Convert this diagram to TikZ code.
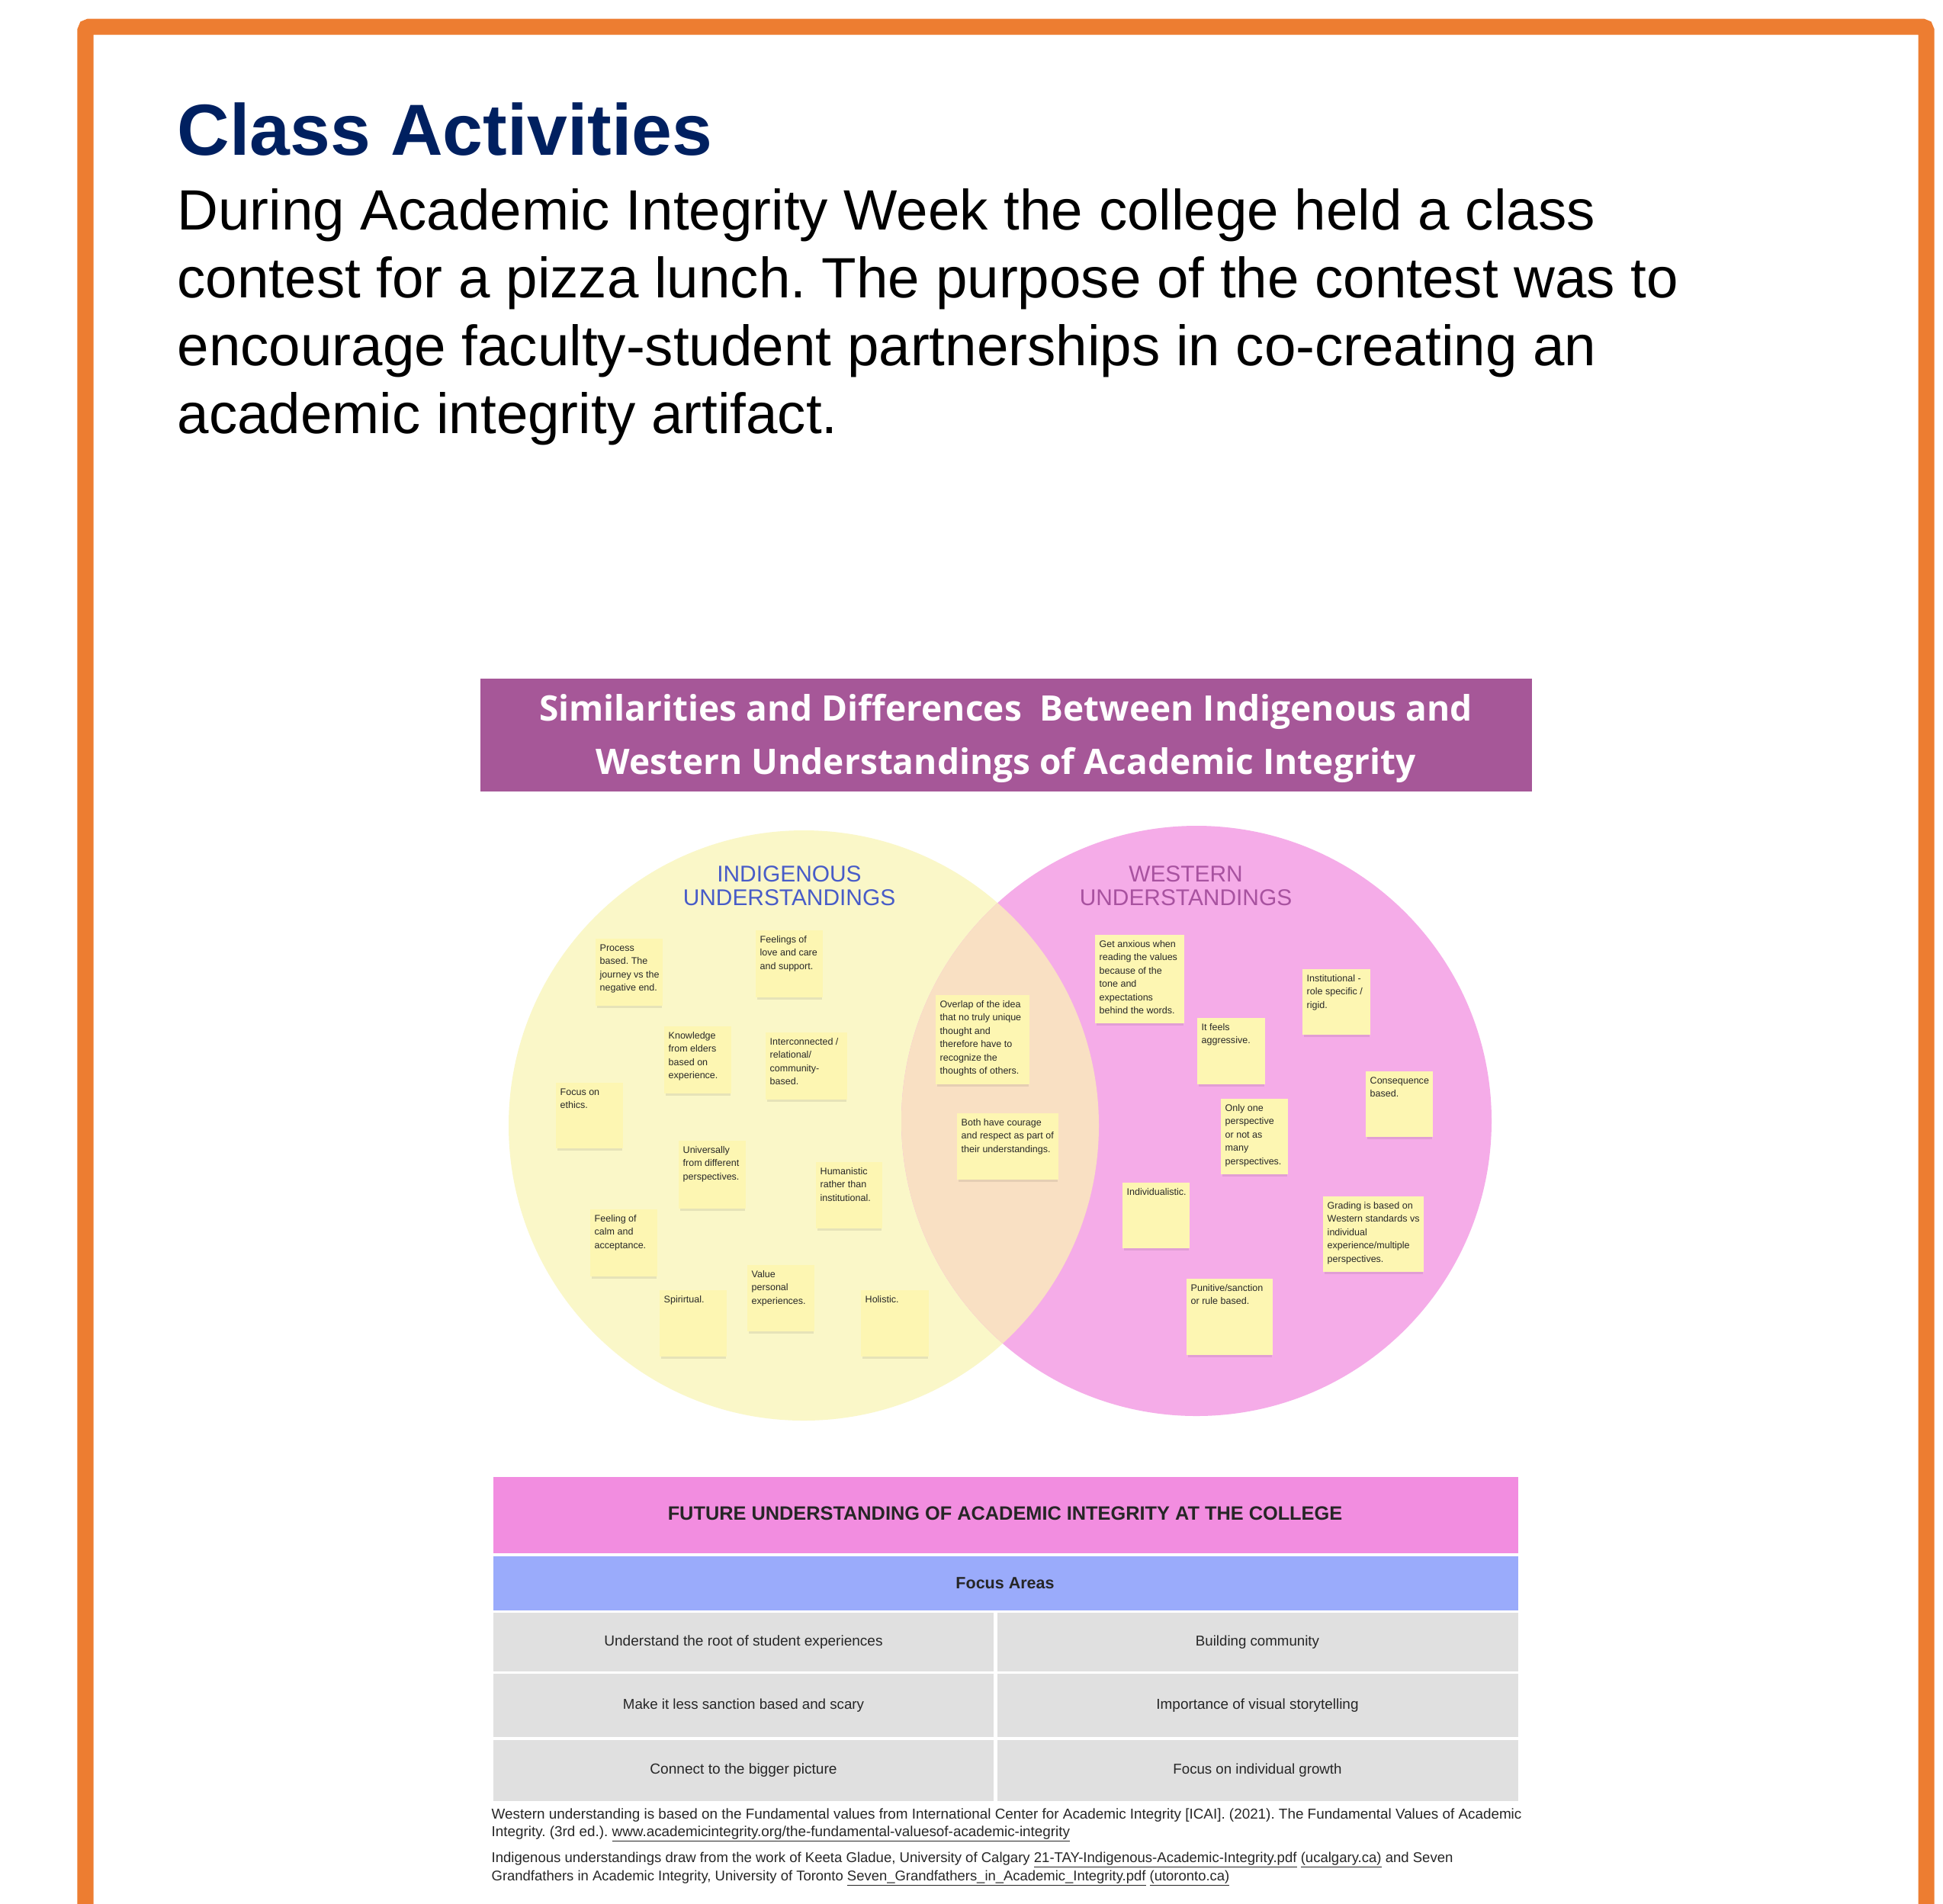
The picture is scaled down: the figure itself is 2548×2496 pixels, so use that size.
\documentclass[tikz,border=0pt]{standalone}
\usepackage{fontspec}
\usepackage{graphicx}
\setmainfont{Liberation Sans}
\newfontfamily\bannerfont{Open Sans}
\frenchspacing
\definecolor{framec}{RGB}{237,125,49}
\definecolor{headc}{RGB}{0,32,96}
\definecolor{bannerc}{RGB}{166,87,152}
\definecolor{leftc}{RGB}{250,247,200}
\definecolor{rightc}{RGB}{245,172,232}
\definecolor{overc}{RGB}{249,224,195}
\definecolor{stickyc}{RGB}{253,246,178}
\definecolor{pinkc}{RGB}{242,141,224}
\definecolor{bluec}{RGB}{154,171,251}
\definecolor{grayc}{RGB}{224,224,224}
\definecolor{indc}{RGB}{72,92,200}
\definecolor{wesc}{RGB}{168,82,160}
\definecolor{notetxt}{RGB}{40,40,40}
\newcommand\snote[6]{%
  \fill[black,opacity=0.08] (#2+2,#5-1) rectangle (#4-1,#5+3);
  \fill[stickyc] (#2,#3) rectangle (#4,#5);
  \node[notetext] (#1) at (#2+5,#3+16.5) {\parbox[t]{3cm}{\raggedright #6}};
}
\begin{document}
\begin{tikzpicture}[x=0.01cm,y=-0.01cm,
  notetext/.style={anchor=base west,inner sep=0,text=notetxt,font=\fontsize{3.56pt}{4.95pt}\selectfont},
  bodytext/.style={anchor=base west,inner sep=0,font=\fontsize{21.2pt}{25.3pt}\selectfont},
  vennhead/.style={anchor=base,inner sep=0,font=\fontsize{8.5pt}{8.8pt}\selectfont},
  celltext/.style={anchor=center,inner sep=0,text=black!85},
  foot/.style={anchor=base west,inner sep=0,text=black!85}]
\useasboundingbox (0,0) rectangle (2548,2496);
\fill[white] (0,0) rectangle (2548,2496);
% frame
\draw[framec,line width=0.21cm,rounded corners=0.05cm] (112,2560) -- (112,35) -- (2526,35) -- (2526,2560);
% heading and intro
\node[anchor=base west,inner sep=0,text=headc,font=\fontsize{27pt}{30pt}\selectfont\bfseries] (title) at (232,203) {Class Activities};
\node[bodytext] (l1) at (232,301) {During Academic Integrity Week the college held a class};
\node[bodytext] (l2) at (232,390) {contest for a pizza lunch. The purpose of the contest was to};
\node[bodytext] (l3) at (232,479) {encourage faculty-student partnerships in co-creating an};
\node[bodytext] (l4) at (232,568) {academic integrity artifact.};
% banner
\fill[bannerc] (630,890) rectangle (2009,1038);
\node[anchor=base,inner sep=0,text=white] (b1) at (1319,945) {\resizebox{12.23cm}{!}{\bannerfont\bfseries Similarities and Differences\ \ Between Indigenous and}};
\node[anchor=base,inner sep=0,text=white] (b2) at (1319,1015) {\resizebox{10.74cm}{!}{\bannerfont\bfseries Western Understandings of Academic Integrity}};
% venn
\fill[leftc] (1054,1476) circle[radius=387];
\fill[rightc] (1569,1470) circle[radius=387];
\begin{scope}
  \clip (1054,1476) circle[radius=387];
  \fill[overc] (1569,1470) circle[radius=387];
\end{scope}
\node[vennhead,text=indc] (ih1) at (1035,1156) {INDIGENOUS};
\node[vennhead,text=indc] (ih2) at (1035,1187) {UNDERSTANDINGS};
\node[vennhead,text=wesc] (wh1) at (1555,1156) {WESTERN};
\node[vennhead,text=wesc] (wh2) at (1555,1187) {UNDERSTANDINGS};
% notes
\snote{n1}{781}{1231}{869}{1319}{Process\\based. The\\journey vs the\\negative end.}
\snote{n2}{991}{1220}{1079}{1308}{Feelings of\\love and care\\and support.}
\snote{n3}{871}{1346}{959}{1434}{Knowledge\\from elders\\based on\\experience.}
\snote{n4}{1004}{1354}{1111}{1442}{Interconnected /\\relational/\\community-\\based.}
\snote{n5}{729}{1420}{817}{1506}{Focus on\\ethics.}
\snote{n6}{890}{1496}{978}{1585}{Universally\\from different\\perspectives.}
\snote{n7}{1070}{1524}{1157}{1611}{Humanistic\\rather than\\institutional.}
\snote{n8}{774}{1586}{862}{1674}{Feeling of\\calm and\\acceptance.}
\snote{n9}{980}{1659}{1068}{1746}{Value\\personal\\experiences.}
\snote{n10}{865}{1692}{953}{1779}{Spirirtual.}
\snote{n11}{1129}{1692}{1218}{1779}{Holistic.}
\snote{n12}{1227}{1305}{1350}{1422}{Overlap of the idea\\that no truly unique\\thought and\\therefore have to\\recognize the\\thoughts of others.}
\snote{n13}{1255}{1460}{1388}{1547}{Both have courage\\and respect as part of\\their understandings.}
\snote{n14}{1436}{1226}{1553}{1342}{Get anxious when\\reading the values\\because of the\\tone and\\expectations\\behind the words.}
\snote{n15}{1570}{1335}{1659}{1422}{It feels\\aggressive.}
\snote{n16}{1708}{1271}{1797}{1357}{Institutional -\\role specific /\\rigid.}
\snote{n17}{1791}{1405}{1879}{1491}{Consequence\\based.}
\snote{n18}{1601}{1441}{1689}{1540}{Only one\\perspective\\or not as\\many\\perspectives.}
\snote{n19}{1472}{1551}{1560}{1637}{Individualistic.}
\snote{n20}{1735}{1569}{1867}{1668}{Grading is based on\\Western standards vs\\individual\\experience/multiple\\perspectives.}
\snote{n21}{1556}{1677}{1669}{1777}{Punitive/sanction\\or rule based.}
% table
\fill[pinkc] (647,1937) rectangle (1991,2037);
\fill[bluec] (647,2041) rectangle (1991,2112);
\fill[grayc] (647,2115) rectangle (1303,2192);
\fill[grayc] (1308,2115) rectangle (1991,2192);
\fill[grayc] (647,2195) rectangle (1303,2278);
\fill[grayc] (1308,2195) rectangle (1991,2278);
\fill[grayc] (647,2282) rectangle (1303,2362);
\fill[grayc] (1308,2282) rectangle (1991,2362);
\node[celltext] (th) at (1318,1985) {\resizebox{8.84cm}{!}{\bfseries FUTURE UNDERSTANDING OF ACADEMIC INTEGRITY AT THE COLLEGE}};
\node[celltext] (fa) at (1318,2076) {\resizebox{1.29cm}{!}{\bfseries Focus Areas}};
\node[celltext] (c11) at (975,2154) {\resizebox{3.65cm}{!}{Understand the root of student experiences}};
\node[celltext] (c12) at (1649,2154) {\resizebox{1.62cm}{!}{Building community}};
\node[celltext] (c21) at (975,2237) {\resizebox{3.16cm}{!}{Make it less sanction based and scary}};
\node[celltext] (c22) at (1649,2237) {\resizebox{2.65cm}{!}{Importance of visual storytelling}};
\node[celltext] (c31) at (975,2322) {\resizebox{2.45cm}{!}{Connect to the bigger picture}};
\node[celltext] (c32) at (1649,2322) {\resizebox{2.21cm}{!}{Focus on individual growth}};
% footnotes
\node[foot] (f1) at (644,2385) {\resizebox{13.5cm}{!}{Western understanding is based on the Fundamental values from International Center for Academic Integrity [ICAI]. (2021). The Fundamental Values of Academic}};
\node[foot] (f2) at (644,2408) {\resizebox{7.58cm}{!}{Integrity. (3rd ed.). \underline{www.academicintegrity.org/the-fundamental-valuesof-academic-integrity}}};
\node[foot] (f3) at (644,2442) {\resizebox{12.6cm}{!}{Indigenous understandings draw from the work of Keeta Gladue, University of Calgary \underline{21-TAY-Indigenous-Academic-Integrity.pdf} \underline{(ucalgary.ca)} and Seven}};
\node[foot] (f4) at (644,2466) {\resizebox{9.67cm}{!}{Grandfathers in Academic Integrity, University of Toronto \underline{Seven\_Grandfathers\_in\_Academic\_Integrity.pdf} \underline{(utoronto.ca)}}};
\end{tikzpicture}
\end{document}
